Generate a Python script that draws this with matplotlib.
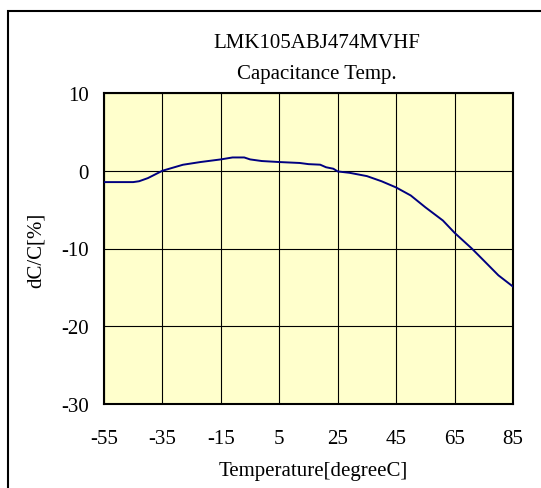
import matplotlib
matplotlib.use("Agg")
import matplotlib.pyplot as plt
from matplotlib.patches import Rectangle

plt.rcParams['font.family'] = ['Liberation Serif', 'DejaVu Serif']
plt.rcParams['font.size'] = 15
plt.rcParams['axes.unicode_minus'] = False

W, H = 541, 489

# values
temp = [-55, -45, -43, -40, -35, -28, -22, -15, -11, -7, -5, -1, 5, 12, 15,
        19, 21, 23.5, 25, 29, 35, 40, 45, 50, 55, 61, 65, 71, 75, 80, 85]
dcc = [-1.46, -1.46, -1.35, -0.95, 0.0, 0.77, 1.12, 1.46, 1.71, 1.71, 1.46,
       1.25, 1.12, 1.0, 0.85, 0.78, 0.45, 0.26, -0.09, -0.26, -0.69, -1.35,
       -2.15, -3.18, -4.7, -6.4, -7.98, -10.04, -11.55, -13.45, -14.9]
xticks = [-55, -35, -15, 5, 25, 45, 65, 85]
yticks = [-30, -20, -10, 0, 10]

fig = plt.figure(figsize=(W / 100, H / 100), dpi=100)
ax = fig.add_axes([104 / W, 1 - 405 / H, 409 / W, 311 / H])
ax.set_facecolor('#ffffcc')

ax.plot(temp, dcc, color='#000080', lw=1.4, zorder=3)

ax.set_xlim(-55, 85)
ax.set_ylim(-30, 10)
ax.set_xticks(xticks)
ax.set_yticks(yticks)
ax.grid(True, color='black', lw=0.8)
ax.tick_params(length=0)
ax.tick_params(axis='y', pad=11)
ax.tick_params(axis='x', pad=18)
for s in ax.spines.values():
    s.set_linewidth(1.5)

fig.text(317 / W, 1 - 48.3 / H, 'LMK105ABJ474MVHF', ha='center', va='baseline')
fig.text(317 / W, 1 - 79.3 / H, 'Capacitance Temp.', ha='center', va='baseline')
fig.text(313 / W, 1 - 476 / H, 'Temperature[degreeC]', ha='center', va='baseline')
fig.text(36 / W, 1 - 250 / H, 'dC/C[%]', rotation=90, ha='center', va='center')

# outer frame, clipped at right and bottom
fig.add_artist(Rectangle((8 / W, -0.1), 1.0, 1.1 - 12 / H, transform=fig.transFigure,
                         fill=False, lw=1.5, edgecolor='black'))

fig.savefig('out.png', dpi=100)
